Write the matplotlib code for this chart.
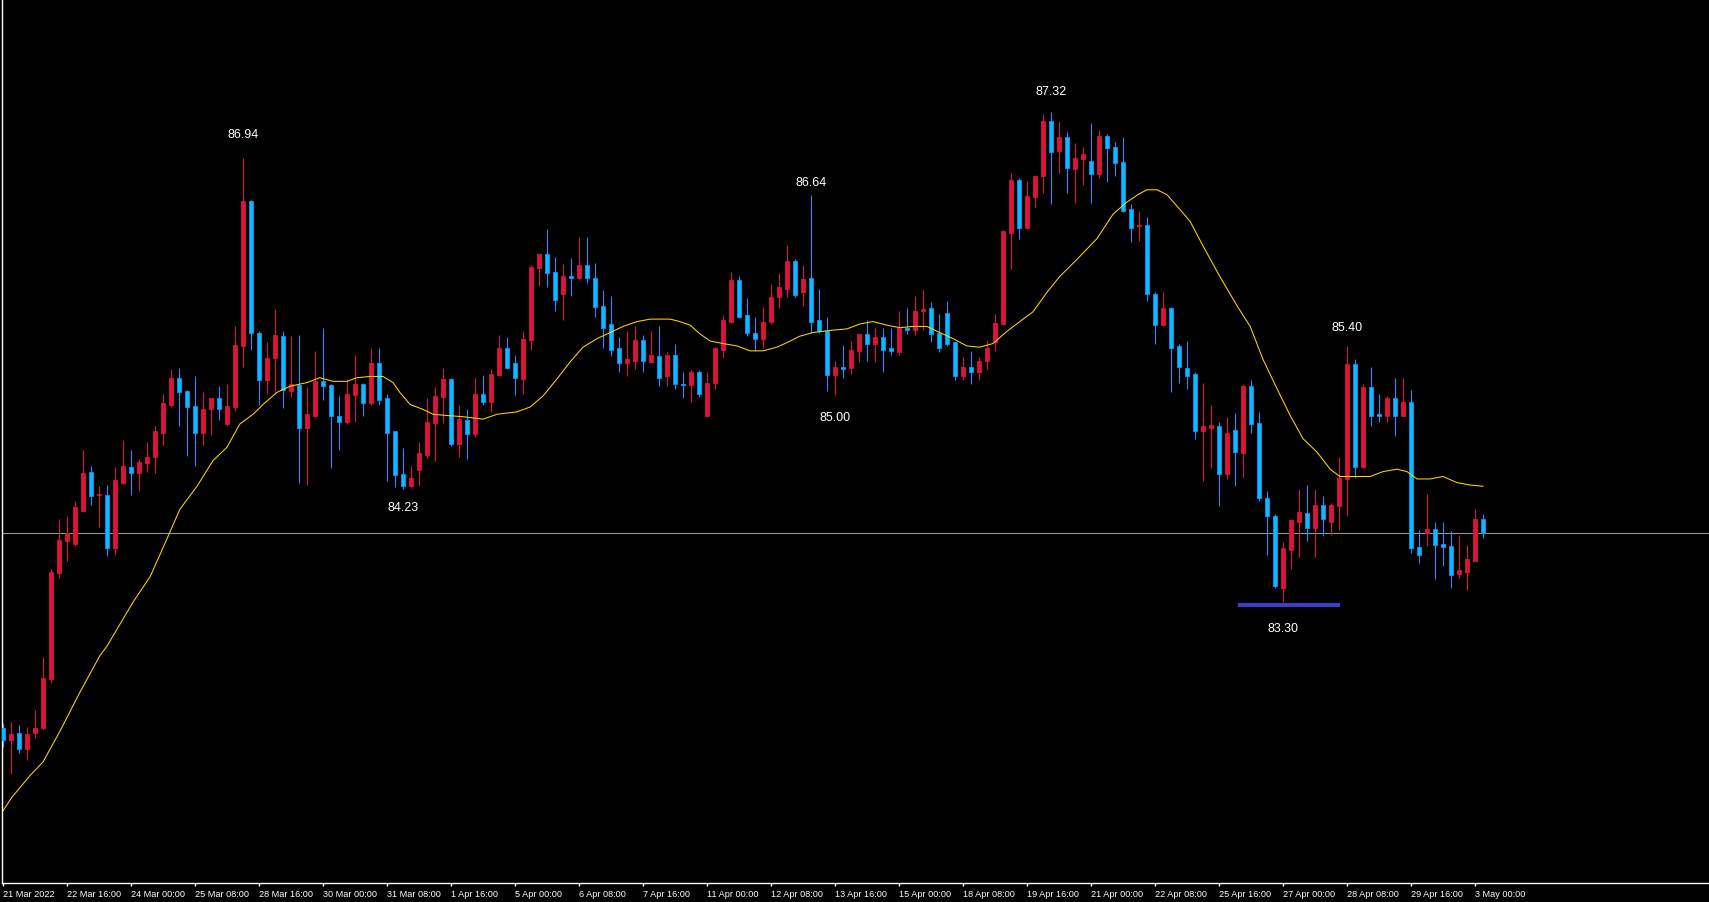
import matplotlib
matplotlib.use("Agg")
import matplotlib.pyplot as plt
from matplotlib import font_manager

# H4 bars, 21 Mar 2022 08:00 .. 3 May 2022 04:00
opens = [82.27, 82.17, 82.23, 82.10, 82.23, 82.27, 82.67, 83.54, 83.80, 83.78,
         84.05, 84.37, 84.18, 84.18, 83.74, 84.28, 84.41, 84.36, 84.44, 84.49,
         84.69, 84.92, 85.14, 85.03, 84.91, 84.69, 84.88, 84.97, 84.76, 84.90,
         85.40, 86.59, 85.51, 85.12, 85.30, 85.48, 85.03, 85.08, 84.73, 84.83,
         85.11, 85.08, 84.83, 84.78, 85.00, 85.09, 84.93, 85.26, 84.97, 84.70,
         84.35, 84.25, 84.38, 84.51, 84.77, 84.98, 85.13, 84.60, 84.79, 84.68,
         85.01, 84.94, 85.16, 85.38, 85.26, 85.13, 85.45, 86.04, 86.15, 86.01,
         85.83, 85.97, 85.96, 86.06, 85.96, 85.73, 85.58, 85.38, 85.26, 85.28,
         85.45, 85.27, 85.32, 85.15, 85.33, 85.09, 85.08, 85.19, 84.83, 85.10,
         85.37, 85.60, 85.94, 85.65, 85.51, 85.46, 85.60, 85.80, 85.87, 86.10,
         85.84, 85.96, 85.61, 85.52, 85.16, 85.23, 85.22, 85.36, 85.50, 85.42,
         85.47, 85.38, 85.35, 85.55, 85.53, 85.69, 85.71, 85.51, 85.67, 85.43,
         85.15, 85.23, 85.19, 85.28, 85.43, 85.58, 86.33, 86.76, 86.37, 86.62,
         86.79, 87.24, 87.00, 87.11, 86.85, 86.93, 86.92, 86.81, 87.12, 87.03,
         86.91, 86.52, 86.38, 86.39, 85.83, 85.57, 85.71, 85.40, 85.22, 85.17,
         84.70, 84.73, 84.74, 84.35, 84.71, 84.52, 85.07, 84.77, 84.15, 84.01,
         83.42, 83.73, 83.96, 84.03, 83.91, 84.10, 83.96, 84.09, 84.31, 85.25,
         84.41, 85.06, 84.84, 84.83, 84.97, 84.83, 84.94, 83.75, 83.87, 83.90,
         83.78, 83.76, 83.53, 83.55, 83.64, 83.98]
highs = [82.31, 82.32, 82.29, 82.28, 82.42, 82.85, 83.57, 83.98, 84.01, 84.13,
         84.55, 84.42, 84.25, 84.26, 84.41, 84.63, 84.55, 84.47, 84.61, 84.74,
         85.01, 85.21, 85.22, 85.04, 85.15, 85.02, 84.98, 85.07, 85.09, 85.56,
         86.94, 86.60, 85.52, 85.43, 85.70, 85.52, 85.48, 85.49, 85.06, 85.36,
         85.55, 85.09, 84.99, 85.13, 85.33, 85.10, 85.38, 85.38, 85.01, 84.70,
         84.56, 84.42, 84.61, 84.97, 85.06, 85.22, 85.14, 84.92, 84.88, 85.14,
         85.16, 85.21, 85.49, 85.47, 85.33, 85.52, 86.06, 86.16, 86.36, 86.13,
         86.07, 86.12, 86.29, 86.29, 86.08, 85.86, 85.81, 85.47, 85.52, 85.56,
         85.49, 85.52, 85.56, 85.35, 85.42, 85.19, 85.20, 85.20, 85.19, 85.39,
         85.65, 86.01, 85.97, 85.79, 85.64, 85.72, 85.91, 86.00, 86.23, 86.11,
         86.06, 86.64, 85.87, 85.64, 85.28, 85.41, 85.44, 85.51, 85.61, 85.55,
         85.55, 85.55, 85.69, 85.71, 85.81, 85.86, 85.76, 85.66, 85.77, 85.43,
         85.31, 85.36, 85.31, 85.45, 85.66, 86.35, 86.82, 86.78, 86.75, 86.80,
         87.30, 87.32, 87.24, 87.15, 87.06, 87.03, 87.23, 87.17, 87.14, 87.07,
         87.11, 86.56, 86.51, 86.46, 85.84, 85.84, 85.72, 85.42, 85.44, 85.19,
         85.10, 84.92, 84.78, 84.82, 84.85, 85.09, 85.12, 84.86, 84.21, 84.02,
         83.79, 83.98, 84.23, 84.26, 84.23, 84.17, 84.11, 84.49, 85.40, 85.29,
         85.09, 85.23, 85.01, 84.99, 85.14, 85.14, 85.04, 83.89, 84.19, 83.96,
         83.96, 83.88, 83.85, 83.77, 84.06, 84.02]
lows = [82.11, 81.89, 82.06, 82.01, 82.19, 82.25, 82.64, 83.50, 83.64, 83.76,
        84.04, 84.10, 83.92, 83.68, 83.69, 84.27, 84.18, 84.21, 84.37, 84.36,
        84.59, 84.90, 84.74, 84.50, 84.42, 84.59, 84.67, 84.79, 84.74, 84.87,
        85.23, 85.37, 84.92, 85.01, 85.01, 84.89, 84.98, 84.28, 84.26, 84.82,
        84.96, 84.40, 84.55, 84.76, 84.78, 84.83, 84.92, 84.92, 84.29, 84.24,
        84.23, 84.24, 84.25, 84.48, 84.46, 84.77, 84.58, 84.49, 84.47, 84.65,
        84.92, 84.86, 85.15, 85.21, 85.00, 85.01, 85.37, 85.89, 85.88, 85.69,
        85.61, 85.81, 85.95, 85.92, 85.64, 85.38, 85.32, 85.19, 85.15, 85.21,
        85.19, 85.27, 85.07, 85.07, 85.05, 84.97, 84.94, 84.98, 84.82, 85.05,
        85.30, 85.59, 85.63, 85.48, 85.36, 85.38, 85.58, 85.71, 85.80, 85.80,
        85.73, 85.51, 85.51, 85.03, 85.00, 85.14, 85.17, 85.27, 85.28, 85.27,
        85.19, 85.33, 85.33, 85.50, 85.49, 85.53, 85.43, 85.35, 85.40, 85.12,
        85.12, 85.09, 85.12, 85.21, 85.36, 85.57, 86.03, 86.28, 86.36, 86.54,
        86.65, 86.56, 86.82, 86.65, 86.57, 86.72, 86.57, 86.78, 86.74, 86.79,
        86.50, 86.25, 86.26, 85.77, 85.42, 85.56, 85.02, 85.10, 85.05, 84.64,
        84.29, 84.40, 84.09, 84.31, 84.25, 84.33, 84.69, 84.13, 83.69, 83.42,
        83.30, 83.57, 83.67, 83.80, 83.67, 83.84, 83.85, 83.89, 84.01, 84.32,
        84.40, 84.74, 84.78, 84.78, 84.66, 84.83, 83.70, 83.62, 83.76, 83.49,
        83.60, 83.42, 83.50, 83.40, 83.63, 83.83]
closes = [82.17, 82.22, 82.10, 82.22, 82.27, 82.68, 83.55, 83.81, 83.87, 84.08,
          84.36, 84.17, 84.19, 83.74, 84.30, 84.42, 84.36, 84.45, 84.49, 84.70,
          84.93, 85.14, 85.02, 84.90, 84.69, 84.88, 84.97, 84.88, 84.91, 85.41,
          86.59, 85.51, 85.12, 85.30, 85.49, 85.04, 85.09, 84.73, 84.84, 85.11,
          85.07, 84.83, 84.78, 85.01, 85.09, 84.93, 85.26, 84.96, 84.69, 84.34,
          84.25, 84.32, 84.52, 84.78, 84.99, 85.13, 84.60, 84.80, 84.68, 85.01,
          84.94, 85.17, 85.38, 85.22, 85.14, 85.46, 86.05, 86.15, 86.00, 85.78,
          85.97, 85.96, 86.06, 85.96, 85.72, 85.55, 85.37, 85.26, 85.29, 85.45,
          85.28, 85.33, 85.14, 85.33, 85.09, 85.08, 85.19, 85.01, 85.10, 85.38,
          85.61, 85.94, 85.64, 85.51, 85.46, 85.60, 85.80, 85.88, 86.10, 85.82,
          85.95, 85.60, 85.52, 85.16, 85.23, 85.21, 85.37, 85.50, 85.42, 85.47,
          85.37, 85.36, 85.55, 85.53, 85.69, 85.70, 85.50, 85.38, 85.42, 85.15,
          85.23, 85.19, 85.28, 85.38, 85.59, 86.34, 86.76, 86.37, 86.63, 86.79,
          87.24, 86.99, 87.11, 86.86, 86.94, 86.97, 86.81, 87.12, 87.02, 86.90,
          86.51, 86.37, 86.39, 85.83, 85.57, 85.71, 85.38, 85.23, 85.15, 84.70,
          84.74, 84.75, 84.35, 84.69, 84.53, 85.07, 84.76, 84.15, 84.01, 83.43,
          83.74, 83.97, 84.04, 83.91, 84.10, 83.98, 84.10, 84.32, 85.25, 84.41,
          85.06, 84.83, 84.83, 84.97, 84.83, 84.94, 83.74, 83.69, 83.90, 83.77,
          83.75, 83.52, 83.56, 83.65, 83.98, 83.87]

# moving average (bar position, value)
ma_pos = [0, 1.1, 3.4, 5, 7.1, 9.6, 12.1, 13, 16.25, 18.4, 20.5, 22.1, 24.25, 26.25,
          28, 29.6, 31.25, 32.5, 34.25, 35.9, 38, 39.6, 41.25, 43, 44.25, 45.9, 47.5,
          48.75, 49.6, 50.9, 52.5, 53.75, 55.5, 57.5, 60, 61.75, 64.25, 65.9, 67.5,
          69.25, 70.9, 72.5, 74.25, 75.9, 77.5, 79.25, 80.9, 83.4, 84.6, 85.9, 87.1,
          88.4, 90, 91.75, 93.4, 95, 96.75, 98.4, 99.6, 101.25, 103.75, 105.5, 107.1,
          108.75, 110.5, 112.1, 113.75, 115.5, 117.1, 118.75, 120.5, 122.1, 123.75,
          125.5, 127.1, 128.75, 130.5, 132.1, 134.25, 136.75, 138.75, 140.5, 142.1,
          143, 144.25, 145.5, 147.1, 148.4, 150, 152.1, 154.25, 155.9, 157.5, 159.25,
          160.9, 162.5, 164.25, 165.9, 167.1, 169.25, 170.9, 172.5, 174.25, 175.5,
          176.75, 178.4, 180, 181.75, 183.4, 185]
ma_val = [81.59, 81.70, 81.88, 81.99, 82.24, 82.56, 82.86, 82.94, 83.30, 83.51,
          83.82, 84.06, 84.25, 84.46, 84.57, 84.76, 84.84, 84.92, 85.02, 85.07,
          85.10, 85.14, 85.11, 85.11, 85.14, 85.15, 85.15, 85.10, 85.02, 84.92,
          84.88, 84.84, 84.83, 84.82, 84.80, 84.84, 84.86, 84.90, 84.99, 85.13,
          85.27, 85.39, 85.46, 85.51, 85.56, 85.60, 85.62, 85.62, 85.60, 85.57,
          85.50, 85.44, 85.42, 85.40, 85.36, 85.36, 85.39, 85.44, 85.48, 85.51,
          85.53, 85.54, 85.58, 85.60, 85.57, 85.55, 85.56, 85.56, 85.51, 85.46,
          85.40, 85.39, 85.42, 85.52, 85.60, 85.68, 85.84, 85.97, 86.11, 86.28,
          86.48, 86.58, 86.65, 86.68, 86.68, 86.64, 86.52, 86.42, 86.22, 85.97,
          85.73, 85.56, 85.29, 85.05, 84.83, 84.64, 84.53, 84.39, 84.33, 84.33,
          84.33, 84.37, 84.39, 84.37, 84.31, 84.31, 84.33, 84.28, 84.26, 84.25]

time_labels = ["21 Mar 2022", "22 Mar 16:00", "24 Mar 00:00", "25 Mar 08:00",
               "28 Mar 16:00", "30 Mar 00:00", "31 Mar 08:00", "1 Apr 16:00",
               "5 Apr 00:00", "6 Apr 08:00", "7 Apr 16:00", "11 Apr 00:00",
               "12 Apr 08:00", "13 Apr 16:00", "15 Apr 00:00", "18 Apr 08:00",
               "19 Apr 16:00", "21 Apr 00:00", "22 Apr 08:00", "25 Apr 16:00",
               "27 Apr 00:00", "28 Apr 08:00", "29 Apr 16:00", "3 May 00:00"]

bid = 83.87
swing_highs = [30, 101, 131, 168]
swing_lows = [50, 104, 160]
support_level = 83.28
support_from, support_to = 154.4, 167.1

UP = '#DC143C'
DOWN_FILL = '#00BFFF'
DOWN_EDGE = '#1E90FF'

installed = {f.name for f in font_manager.fontManager.ttflist}
axis_font = 'Liberation Sans Narrow' if 'Liberation Sans Narrow' in installed else 'Liberation Sans'
axis_size = 8 if axis_font == 'Liberation Sans Narrow' else 6.6

fig = plt.figure(figsize=(17.09, 9.03), dpi=100, facecolor='black')
ax = fig.add_axes([2 / 1709, 19 / 903, 1 - 2 / 1709, 884 / 903])
ax.set_facecolor('black')

n = len(opens)
x = list(range(n))
up = [c > o for o, c in zip(opens, closes)]

# wicks
for i in x:
    col = UP if up[i] else DOWN_EDGE
    ax.vlines(i, lows[i], highs[i], color=col, linewidth=0.8, zorder=2)

# bodies
bottoms = [min(o, c) for o, c in zip(opens, closes)]
heights = [max(abs(c - o), 0.009) for o, c in zip(opens, closes)]
fills = [UP if u else DOWN_FILL for u in up]
edges = [UP if u else DOWN_EDGE for u in up]
ax.bar(x, heights, bottom=bottoms, width=0.56, color=fills, edgecolor=edges,
       linewidth=0.6, zorder=3)

ax.plot(ma_pos, ma_val, color='#FFD700', linewidth=0.75, zorder=4)
ax.axhline(bid, color='#8A96A3', linewidth=0.8, zorder=1)
ax.plot([support_from, support_to], [support_level, support_level],
        color='#3C3FC4', linewidth=3, solid_capstyle='butt', zorder=4)

hi_off = {30: 24, 101: 13, 131: 21, 168: 19}
lo_off = {50: 18, 104: 22, 160: 26}
for i in swing_highs:
    ax.annotate(f"{highs[i]:.2f}", (i, highs[i]), xytext=(0, hi_off[i]),
                textcoords='offset pixels', ha='center', va='center',
                color='white', fontsize=9, family='Liberation Sans')
for i in swing_lows:
    ax.annotate(f"{lows[i]:.2f}", (i, lows[i]), xytext=(0, -lo_off[i]),
                textcoords='offset pixels', ha='center', va='center',
                color='white', fontsize=9, family='Liberation Sans')

ax.set_xlim(-0.125, 213.25)
ax.set_ylim(80.998, 88.244)

ax.set_xticks(range(0, 8 * len(time_labels), 8))
ax.set_xticklabels(time_labels, ha='left', color='white', fontsize=axis_size,
                   family=axis_font)
ax.tick_params(axis='x', colors='white', length=2.5, width=1, pad=1.5)
ax.set_yticks([])

for side in ['top', 'right']:
    ax.spines[side].set_visible(False)
for side in ['left', 'bottom']:
    ax.spines[side].set_color('white')
    ax.spines[side].set_linewidth(1)

fig.savefig('out.png', dpi=100, facecolor='black')
